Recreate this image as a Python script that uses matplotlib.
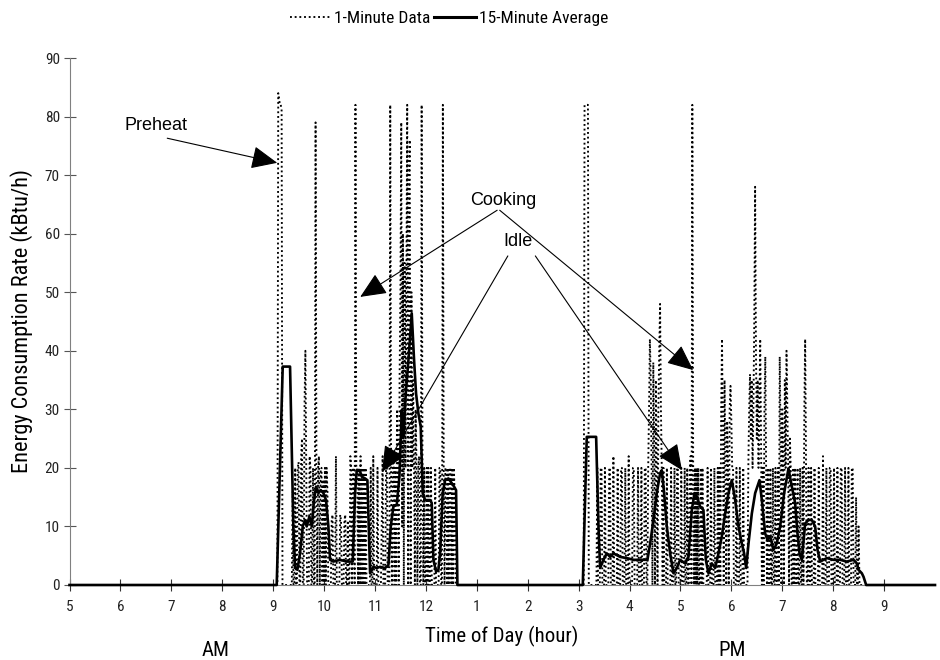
import matplotlib
matplotlib.use('Agg')
import matplotlib.pyplot as plt
from matplotlib import font_manager
from matplotlib.lines import Line2D
import numpy as np

names = set(font_manager.get_font_names())
FONT = 'DejaVu Sans'
for cand in ['Liberation Sans', 'Arial']:
    if cand in names:
        FONT = cand
        break
NARROW = None
for cand in ['Liberation Sans Narrow', 'Arial Narrow', 'Roboto Condensed',
             'Open Sans Condensed']:
    if cand in names:
        NARROW = cand
        break
plt.rcParams['font.family'] = [FONT, 'DejaVu Sans']
NFAM = [NARROW, FONT, 'DejaVu Sans'] if NARROW else [FONT, 'DejaVu Sans']
NSCALE = 1.0 if NARROW else 0.85

# ---------------- data ----------------
hour_ticks = list(range(5, 22))
hour_labels = ['5', '6', '7', '8', '9', '10', '11', '12', '1', '2', '3',
               '4', '5', '6', '7', '8', '9']

# 1-minute data: {minute of hour: kBtu/h}; minutes not listed are 0
min_09 = {6: 84, 7: 83, 8: 82, 9: 82, 10: 81, 23: 16, 26: 20, 29: 20, 30: 21,
          33: 22, 34: 25, 37: 31, 38: 40, 39: 20, 43: 22, 44: 20, 47: 20,
          50: 79, 51: 20, 53: 20, 54: 22, 56: 20, 57: 20, 59: 18}
min_10 = {1: 20, 3: 20, 4: 16, 9: 11, 10: 12, 14: 22, 19: 12, 20: 11, 24: 11,
          25: 12, 28: 11, 31: 22, 32: 20, 34: 20, 35: 20, 37: 82, 38: 20,
          39: 20, 41: 20, 43: 22, 45: 20, 47: 20, 49: 20, 55: 20, 58: 22}
min_11 = {3: 20, 8: 11, 9: 22, 13: 20, 14: 20, 18: 82, 19: 20, 21: 20, 22: 22,
          24: 20, 26: 30, 27: 20, 29: 35, 30: 50, 31: 79, 32: 10, 33: 60,
          35: 55, 36: 20, 37: 50, 38: 82, 40: 70, 41: 76, 43: 50, 44: 20,
          45: 35, 46: 20, 48: 30, 49: 20, 51: 20, 52: 22, 55: 82, 56: 20,
          58: 20}
min_12 = {1: 20, 3: 20, 6: 20, 11: 20, 16: 20, 17: 20, 20: 82, 21: 20, 23: 20,
          24: 20, 26: 20, 28: 20, 29: 20, 31: 20, 33: 20, 34: 15}
min_15 = {7: 82, 8: 82, 9: 82, 10: 82, 11: 82, 22: 20, 26: 20, 27: 20, 31: 20,
          36: 20, 37: 20, 41: 22, 46: 20, 50: 20, 51: 20, 55: 20, 59: 22}
min_16 = {4: 20, 5: 20, 10: 20, 14: 20, 18: 20, 19: 20, 22: 20, 23: 30, 24: 42,
          25: 35, 26: 20, 28: 38, 29: 25, 31: 35, 32: 20, 34: 30, 35: 40,
          36: 48, 37: 30, 38: 20, 40: 20, 44: 20, 49: 20, 53: 20, 56: 20,
          57: 20}
min_17 = {1: 20, 5: 20, 8: 20, 11: 20, 12: 22, 14: 82, 15: 20, 17: 20, 19: 20,
          21: 20, 24: 20, 26: 20, 32: 20, 36: 20, 40: 20, 44: 20, 46: 20,
          48: 30, 49: 42, 50: 25, 52: 35, 53: 20, 55: 28, 56: 20, 58: 30,
          59: 34}
min_18 = {0: 28, 1: 20, 2: 20, 6: 20, 10: 20, 14: 20, 20: 20, 21: 30, 22: 36,
          23: 25, 24: 35, 25: 20, 26: 30, 27: 45, 28: 68, 29: 40, 30: 25,
          31: 35, 32: 20, 33: 30, 34: 42, 35: 25, 37: 20, 39: 30, 40: 39,
          41: 20, 43: 20, 46: 20, 49: 20, 52: 20, 55: 20, 57: 39, 58: 25}
min_19 = {0: 30, 1: 20, 3: 35, 4: 20, 5: 40, 6: 30, 7: 20, 9: 25, 10: 20,
          13: 20, 15: 20, 18: 20, 21: 20, 24: 20, 26: 30, 27: 42, 28: 20,
          31: 20, 34: 20, 38: 20, 43: 20, 48: 22, 52: 20, 56: 20, 57: 20}
min_20 = {1: 20, 5: 20, 9: 20, 10: 20, 14: 20, 18: 20, 22: 20, 23: 20, 27: 15,
          30: 10}
minute_data = {9: min_09, 10: min_10, 11: min_11, 12: min_12, 15: min_15,
               16: min_16, 17: min_17, 18: min_18, 19: min_19, 20: min_20}

# 15-minute average (hour of day, kBtu/h)
avg_am_time = [5.0, 9.070, 9.188, 9.332, 9.397, 9.430, 9.476, 9.528, 9.581,
               9.627, 9.659, 9.712, 9.758, 9.803, 9.843, 9.889, 9.935, 9.987,
               10.039, 10.085, 10.118, 10.183, 10.314, 10.445, 10.563, 10.609,
               10.642, 10.707, 10.740, 10.805, 10.851, 10.877, 10.904, 10.969,
               11.035, 11.100, 11.198, 11.264, 11.310, 11.362, 11.428, 11.480,
               11.526, 11.559, 11.605, 11.657, 11.722, 11.768, 11.807, 11.853,
               11.899, 11.938, 11.984, 12.083, 12.115, 12.148, 12.200, 12.246,
               12.279, 12.331, 12.377, 12.443, 12.508, 12.554, 12.593, 12.619]
avg_am_value = [0, 0, 37.3, 37.3, 10.0, 3.1, 2.6, 5.4, 10.0, 11.1, 10.0, 11.7,
                10.0, 14.5, 16.8, 15.7, 16.2, 15.7, 14.5, 10.0, 4.3, 4.0, 4.3,
                4.0, 4.0, 15.7, 19.6, 19.4, 18.5, 18.2, 17.9, 10.0, 2.0, 3.1,
                2.9, 3.1, 2.9, 3.4, 10.0, 13.4, 13.7, 18.5, 29.9, 25.3, 32.7,
                38.4, 46.4, 38.4, 32.7, 29.3, 27.0, 15.7, 14.5, 14.5, 14.0, 4.3,
                2.3, 2.6, 5.4, 15.7, 17.9, 18.2, 17.4, 16.8, 16.2, 0]
avg_pm_time = [15.082, 15.160, 15.193, 15.344, 15.390, 15.422, 15.488, 15.553,
               15.619, 15.684, 15.815, 15.946, 16.077, 16.208, 16.352, 16.405,
               16.470, 16.536, 16.601, 16.634, 16.680, 16.732, 16.798, 16.863,
               16.929, 16.994, 17.092, 17.158, 17.223, 17.276, 17.321, 17.387,
               17.452, 17.498, 17.551, 17.616, 17.682, 17.747, 17.813, 17.878,
               17.944, 18.009, 18.075, 18.140, 18.206, 18.251, 18.291, 18.337,
               18.402, 18.468, 18.553, 18.599, 18.664, 18.710, 18.762, 18.828,
               18.893, 18.959, 19.037, 19.122, 19.188, 19.253, 19.299, 19.339,
               19.384, 19.450, 19.515, 19.581, 19.646, 19.692, 19.745, 19.876,
               20.006, 20.137, 20.268, 20.399, 20.465, 20.498, 20.563, 20.596,
               20.648, 22.0]
avg_pm_value = [0, 25.3, 25.3, 25.3, 10.0, 2.9, 4.3, 5.4, 4.8, 5.4, 4.8, 4.6,
                4.3, 4.3, 4.3, 7.1, 11.1, 15.7, 19.1, 19.6, 15.7, 10.0, 5.4,
                2.0, 2.9, 4.3, 3.7, 4.8, 12.8, 15.7, 15.1, 13.4, 12.8, 4.3, 2.0,
                3.7, 2.9, 5.4, 8.3, 12.2, 15.7, 17.9, 14.5, 10.0, 7.1, 5.4, 2.9,
                7.1, 12.2, 15.7, 17.9, 14.5, 8.8, 7.7, 8.3, 6.0, 7.1, 10.0,
                15.7, 19.9, 16.8, 14.0, 8.8, 5.4, 4.3, 10.5, 11.1, 11.1, 10.0,
                6.0, 4.0, 4.6, 4.3, 4.3, 4.0, 4.3, 3.7, 2.6, 2.0, 1.4, 0, 0]

# ---------------- build series ----------------
minute_time = np.arange(5 * 60, 22 * 60 + 1) / 60.0
minute_value = np.zeros_like(minute_time)
for h, d in minute_data.items():
    for m, v in d.items():
        minute_value[(h - 5) * 60 + m] = v
avg_time = avg_am_time + avg_pm_time
avg_value = avg_am_value + avg_pm_value

# ---------------- figure ----------------
fig = plt.figure(figsize=(9.4, 6.6), dpi=100)
ax = fig.add_axes([69.5 / 940, 1 - 585 / 660, 865.5 / 940, 527 / 660])

dot_style = (0, (1.0, 1.5))
ax.plot(minute_time, minute_value, color='black', lw=1.35, ls=dot_style,
        zorder=2)
ax.plot(avg_time, avg_value, color='black', lw=1.9, zorder=3, clip_on=False)

ax.set_xlim(5, 22)
ax.set_ylim(0, 90)
ax.set_xticks(hour_ticks)
ax.set_xticklabels(hour_labels)
ax.set_yticks(range(0, 91, 10))
for s in ['top', 'right']:
    ax.spines[s].set_visible(False)
ax.spines['left'].set_color('#808080')
ax.spines['bottom'].set_color('#808080')
ax.tick_params(axis='y', direction='inout', length=8, width=0.8,
               color='#555555', pad=3, labelcolor='#222222')
ax.tick_params(axis='x', direction='inout', length=8, width=0.8,
               color='#333333', pad=7, labelcolor='#222222')
for lab in ax.get_xticklabels() + ax.get_yticklabels():
    lab.set_family(NFAM)
    lab.set_fontsize(11 * NSCALE)

fig.text(22 / 940, 1 - 321 / 660, 'Energy Consumption Rate (kBtu/h)',
         rotation=90, ha='center', va='center', fontsize=16 * NSCALE,
         family=NFAM)
fig.text(502 / 940, 1 - 636 / 660, 'Time of Day (hour)', ha='center',
         va='center', fontsize=15 * NSCALE, family=NFAM)
fig.text(216 / 940, 1 - 650 / 660, 'AM', ha='center', va='center',
         fontsize=15 * NSCALE, family=NFAM)
fig.text(732 / 940, 1 - 650 / 660, 'PM', ha='center', va='center',
         fontsize=15 * NSCALE, family=NFAM)

arrow = dict(arrowstyle='-|>,head_length=0.9,head_width=0.4', lw=0.8,
             color='black', shrinkA=0, shrinkB=0, mutation_scale=18)
ax.text(6.08, 78.4, 'Preheat', fontsize=13, ha='left', va='center')
ax.annotate('', xy=(9.08, 72.1), xytext=(6.92, 76.3), arrowprops=arrow)
ax.text(13.52, 65.7, 'Cooking', fontsize=13, ha='center', va='center')
ax.annotate('', xy=(10.71, 49.2), xytext=(13.40, 64.0), arrowprops=arrow)
ax.annotate('', xy=(17.25, 36.7), xytext=(13.45, 64.0), arrowprops=arrow)
ax.text(13.81, 58.6, 'Idle', fontsize=13, ha='center', va='center')
ax.annotate('', xy=(11.14, 19.3), xytext=(13.61, 56.2), arrowprops=arrow)
ax.annotate('', xy=(17.03, 19.6), xytext=(14.15, 56.2), arrowprops=arrow)

handles = [Line2D([], [], color='black', lw=1.35, ls=dot_style),
           Line2D([], [], color='black', lw=2.2)]
fig.legend(handles, ['1-Minute Data', '15-Minute Average'], loc='center',
           bbox_to_anchor=(449 / 940, 1 - 18 / 660), ncol=2, frameon=False,
           prop={'family': NFAM, 'size': 12.5 * NSCALE}, handlelength=2.4,
           handletextpad=0.15, columnspacing=0.2)

fig.savefig('out.png', dpi=100)
